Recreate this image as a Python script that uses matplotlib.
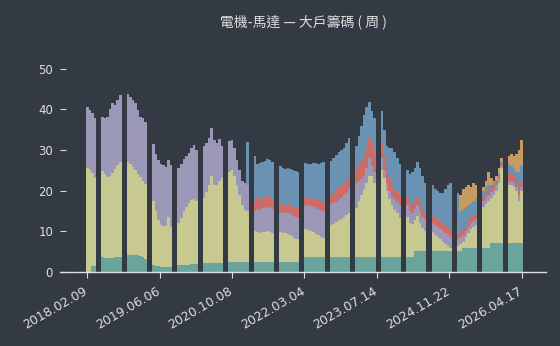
import numpy as np
import matplotlib.pyplot as plt
from matplotlib.transforms import ScaledTranslation

plt.rcParams['font.family'] = ['Noto Sans CJK TC', 'DejaVu Sans']

title = '電機-馬達 — 大戶籌碼 ( 周 )'
date_labels = ['2018.02.09', '2019.06.06', '2020.10.08', '2022.03.04',
               '2023.07.14', '2024.11.22', '2026.04.17']

# cumulative holding levels (%), one value per ~2.5 weeks, None = no data
teal = [0, 0, 1.4, 1.4,
        None, None,
        3.6, 3.4, 3.4, 3.5, 3.5, 3.6, 3.7, 3.7,
        None, None,
        4.2, 4.2, 4.2, 4.1, 4.1, 4.0, 3.6, 3.3,
        None, None,
        1.8, 1.5, 1.4, 1.3, 1.3, 1.3, 1.3, 1.3,
        None, None,
        1.7, 1.7, 1.8, 1.8, 1.8, 1.9, 1.9, 1.9,
        None, None,
        2.1, 2.1, 2.1, 2.1, 2.1, 2.1, 2.1, 2.1,
        None, None,
        2.4, 2.4, 2.4, 2.4, 2.4, 2.4, 2.4, 2.4,
        None, None,
        2.5, 2.5, 2.5, 2.5, 2.5, 2.5, 2.5, 2.5,
        None, None,
        2.5, 2.5, 2.5, 2.5, 2.5, 2.5, 2.5, 2.5,
        None, None,
        3.6, 3.6, 3.6, 3.6, 3.6, 3.6, 3.6, 3.6,
        None, None,
        3.6, 3.6, 3.6, 3.6, 3.6, 3.6, 3.6, 3.6,
        None, None,
        3.6, 3.6, 3.6, 3.6, 3.6, 3.6, 3.6, 3.6,
        None, None,
        3.6, 3.6, 3.6, 3.6, 3.6, 3.6, 3.6, 3.6,
        None, None,
        3.7, 3.7, 3.7, 5.1, 5.1, 5.1, 5.1, 5.1,
        None, None,
        5.1, 5.1, 5.1, 5.1, 5.1, 5.1, 5.1, 5.1,
        None, None,
        5.1, 5.1, 5.8, 5.8, 5.8, 5.8, 5.8, 5.8,
        None, None,
        6.0, 6.0, 6.0, 7.2, 7.2, 7.2, 7.2, 7.2,
        None, None,
        7.2, 7.2, 7.2, 7.2, 7.2, 7.2]

khaki = [25.5, 25.0, 24.3, 23.2,
         None, None,
         24.8, 24.2, 23.4, 23.6, 24.4, 25.3, 26.2, 27.0,
         None, None,
         27.1, 26.6, 25.8, 25.0, 24.2, 23.3, 22.5, 21.6,
         None, None,
         17.5, 15.0, 12.8, 11.6, 11.2, 11.4, 13.5, 11.0,
         None, None,
         12.0, 13.4, 14.9, 16.0, 17.0, 17.6, 18.0, 17.5,
         None, None,
         18.3, 19.8, 21.5, 23.5, 21.5, 21.5, 22.3, 23.0,
         None, None,
         24.5, 25.0, 23.5, 21.5, 19.0, 16.5, 15.2, 15.0,
         None, None,
         10.2, 9.8, 9.6, 9.8, 9.9, 10.0, 9.8, 9.6,
         None, None,
         9.8, 9.6, 9.5, 9.3, 9.0, 8.5, 8.2, 8.0,
         None, None,
         10.6, 10.4, 10.2, 9.8, 9.3, 9.0, 8.6, 8.3,
         None, None,
         11.6, 11.9, 12.3, 12.7, 13.1, 13.5, 14.0, 14.5,
         None, None,
         15.8, 17.5, 19.0, 20.5, 22.0, 23.5, 23.5, 22.0,
         None, None,
         25.0, 23.0, 20.0, 18.0, 16.5, 15.2, 14.5, 13.3,
         None, None,
         13.5, 12.0, 11.8, 12.8, 13.8, 12.0, 10.8, 10.0,
         None, None,
         9.8, 9.2, 8.5, 8.0, 7.5, 7.0, 6.5, 6.0,
         None, None,
         6.5, 7.0, 7.5, 8.5, 9.5, 10.5, 11.0, 11.5,
         None, None,
         16.0, 16.8, 17.5, 18.3, 19.0, 20.0, 22.0, 25.5,
         None, None,
         21.5, 21.5, 21.0, 20.0, 17.5, 20.0]

lavender = [40.5, 39.8, 39.2, 37.8,
            None, None,
            38.2, 37.8, 38.2, 40.2, 41.5, 41.0, 42.3, 43.5,
            None, None,
            43.7, 43.1, 42.3, 41.5, 39.8, 38.2, 37.8, 36.9,
            None, None,
            31.5, 29.0, 27.5, 26.5, 26.3, 25.8, 27.5, 26.3,
            None, None,
            25.5, 26.5, 27.8, 28.6, 29.3, 30.5, 31.2, 30.0,
            None, None,
            31.0, 31.8, 33.0, 35.5, 32.5, 31.8, 32.8, 31.0,
            None, None,
            32.2, 32.5, 30.5, 27.5, 25.0, 22.5, 21.8, 21.5,
            None, None,
            15.0, 15.5, 15.2, 15.8, 16.0, 15.8, 16.0, 15.5,
            None, None,
            14.5, 14.8, 14.5, 14.5, 14.2, 13.8, 13.5, 13.5,
            None, None,
            16.3, 16.4, 16.2, 16.0, 15.8, 15.6, 15.3, 15.0,
            None, None,
            16.8, 17.0, 17.3, 17.8, 18.3, 19.0, 19.5, 20.3,
            None, None,
            22.0, 22.3, 22.8, 23.5, 25.5, 28.0, 26.0, 24.5,
            None, None,
            28.0, 25.0, 21.8, 20.0, 18.8, 18.0, 17.2, 16.5,
            None, None,
            16.5, 15.0, 14.5, 15.5, 16.5, 15.0, 13.5, 13.0,
            None, None,
            12.0, 11.5, 11.0, 10.5, 10.0, 9.5, 9.0, 8.5,
            None, None,
            8.0, 8.5, 9.0, 10.0, 11.0, 12.0, 12.5, 13.0,
            None, None,
            17.5, 18.3, 19.0, 19.8, 20.5, 21.3, 23.0, 26.0,
            None, None,
            22.5, 22.5, 22.0, 21.0, 19.0, 21.0]

red = [None] * 66 + [
    17.5, 18.5, 17.8, 18.0, 18.5, 18.8, 18.3, 18.0,
    None, None,
    16.8, 17.0, 16.5, 16.8, 16.5, 16.3, 16.0, 16.0,
    None, None,
    18.3, 18.5, 18.2, 18.0, 17.8, 17.8, 17.5, 17.2,
    None, None,
    19.0, 19.5, 20.3, 21.0, 21.5, 22.0, 22.5, 23.0,
    None, None,
    25.0, 26.0, 27.0, 28.5, 30.5, 33.0, 31.5, 29.5,
    None, None,
    31.5, 28.5, 25.5, 23.0, 21.5, 20.5, 19.8, 19.0,
    None, None,
    18.5, 17.0, 16.5, 17.5, 18.5, 17.0, 15.5, 14.5,
    None, None,
    14.0, 13.5, 13.0, 12.5, 12.0, 11.5, 11.0, 10.5,
    None, None,
    9.5, 10.0, 10.5, 11.5, 12.5, 13.5, 14.0, 14.5,
    None, None,
    18.5, 19.3, 20.0, 20.8, 21.5, 22.0, 23.5, 26.5,
    None, None,
    24.0, 24.0, 23.5, 22.5, 21.0, 22.5]

blue = [None] * 63 + [32.0, None, None,
    28.5, 26.5, 26.8, 27.0, 27.2, 27.8, 27.5, 27.0,
    None, None,
    26.0, 25.5, 25.3, 25.5, 25.3, 25.0, 24.8, 24.5,
    None, None,
    26.8, 26.5, 26.5, 26.7, 26.8, 26.6, 26.9, 27.0,
    None, None,
    27.3, 28.0, 28.8, 29.5, 30.0, 30.5, 31.8, 33.0,
    None, None,
    31.0, 33.5, 36.0, 38.5, 40.5, 41.8, 39.5, 38.0,
    None, None,
    39.5, 35.0, 31.0, 30.5, 30.5, 29.5, 28.0, 26.5,
    None, None,
    25.0, 24.0, 24.5, 25.5, 27.0, 25.5, 23.5, 22.0,
    None, None,
    21.5, 20.5, 20.0, 19.5, 19.5, 20.3, 21.5, 21.8,
    None, None,
    19.5, 15.0, 15.5, 16.0, 16.5, 17.0, 17.5, 18.0,
    None, None,
    20.0, 20.8, 21.5, 21.5, 21.8, 22.3, 24.0, 27.0,
    None, None,
    26.5, 26.0, 25.5, 24.5, 24.5, 26.0]

orange = [None] * 147 + [
    19.0, 20.5, 21.0, 21.5, 21.0, 22.0, 21.5,
    None, None,
    21.0, 22.5, 24.5, 23.0, 22.5, 23.5, 25.5, 28.0,
    None, None,
    28.5, 29.0, 28.5, 29.0, 30.0, 32.5]

levels = [teal, khaki, lavender, red, blue, orange]
colors = ['#6aa49d', '#c8c891', '#9a98b6', '#cd6b67', '#6a92b2', '#c89a5d']
bg = '#333a44'
fg = '#dedede'

fig = plt.figure(figsize=(5.6, 3.46), dpi=100, facecolor=bg)
ax = fig.add_axes([60 / 560, 74 / 346, 486 / 560, 211.4 / 346], facecolor=bg)

x = np.arange(len(teal))
prev = np.zeros(len(x))
for vals, c in zip(levels, colors):
    top = np.array(vals, dtype=float)
    top = np.where(np.isnan(top), prev, top)
    h = top - prev
    ok = ~np.isnan(h) & (h > 0)
    ax.bar(x[ok], h[ok], bottom=prev[ok], width=1.0, color=c,
           linewidth=0, antialiased=False)
    prev = top

ax.set_xlim(-10.73, 180.55)
ax.set_ylim(0, 52)

ticks = np.linspace(0, len(x) - 1, len(date_labels))
ax.set_xticks(ticks)
ax.set_xticklabels(date_labels, rotation=30, ha='right', rotation_mode='anchor')
ax.set_yticks([0, 10, 20, 30, 40, 50])

for s in ['top', 'right', 'left']:
    ax.spines[s].set_visible(False)
ax.spines['bottom'].set_color(fg)
ax.spines['bottom'].set_linewidth(1.0)

ax.tick_params(axis='x', colors=fg, labelsize=9, direction='out', length=4,
               pad=5, labelfontfamily='DejaVu Sans')
ax.tick_params(axis='y', colors=fg, labelsize=8.5, direction='in', length=4,
               pad=5, labelfontfamily='DejaVu Sans')

# nudge the date labels a little to the left of their ticks
shift = ScaledTranslation(-0.04, 0, fig.dpi_scale_trans)
for lab in ax.get_xticklabels():
    lab.set_transform(lab.get_transform() + shift)

fig.text(303 / 560, 1 - 22 / 346, title, ha='center', va='center',
         fontsize=10, color=fg)

fig.savefig('out.png', dpi=100, facecolor=bg)
